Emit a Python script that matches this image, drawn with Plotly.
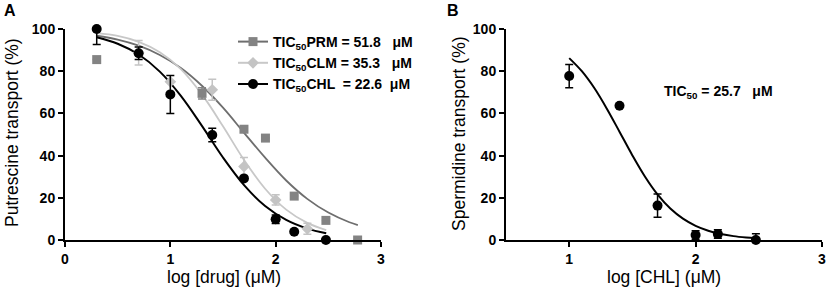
import plotly.graph_objects as go

# ---------------- data: panel A (putrescine transport) ----------------
prm_x = [0.301, 1.301, 1.699, 1.903, 2.176, 2.477, 2.778]
prm_y = [85.5, 69.5, 52.5, 48.3, 20.8, 9.3, 0.0]
prm_err = [0, 2.7, 0, 0, 0, 0, 0]

clm_x = [0.699, 1.0, 1.398, 1.699, 2.0, 2.301]
clm_y = [88.7, 75.0, 71.2, 34.8, 19.0, 5.3]
clm_err = [5.8, 0, 5.0, 4.3, 2.4, 2.6]

chl_x = [0.301, 0.699, 1.0, 1.398, 1.699, 2.0, 2.176, 2.477]
chl_y = [100.0, 88.5, 69.0, 49.8, 29.2, 9.8, 3.9, 0.0]
chl_err_plus = [0, 3.0, 9.0, 3.2, 0, 2.0, 0, 0]
chl_err_minus = [7.3, 3.0, 9.0, 3.2, 0, 2.0, 0, 0]

# fitted curves
prm_fit_x = [0.3, 0.5, 0.7, 0.9, 1.1, 1.3, 1.5, 1.7, 1.9, 2.1, 2.3, 2.5, 2.7, 2.78]
prm_fit_y = [96.8, 95.0, 92.1, 87.7, 81.5, 73.1, 62.7, 50.8, 39.0, 28.2, 19.5, 13.0, 8.4, 7.1]
clm_fit_x = [0.3, 0.5, 0.7, 0.9, 1.1, 1.3, 1.5, 1.7, 1.9, 2.1, 2.3, 2.48]
clm_fit_y = [98.0, 96.7, 93.9, 89.0, 81.0, 69.0, 53.9, 37.9, 24.3, 14.4, 8.1, 4.7]
chl_fit_x = [0.3, 0.5, 0.7, 0.9, 1.1, 1.3, 1.5, 1.7, 1.9, 2.1, 2.3, 2.48]
chl_fit_y = [96.1, 93.0, 87.9, 79.8, 68.3, 54.1, 39.1, 26.0, 16.1, 9.5, 5.4, 3.2]

legend_labels = [
    "TIC<sub>50</sub>PRM = 51.8\u00a0\u00a0 \u03bcM",
    "TIC<sub>50</sub>CLM = 35.3\u00a0\u00a0 \u03bcM",
    "TIC<sub>50</sub>CHL \u00a0= 22.6\u00a0 \u03bcM",
]

# ---------------- data: panel B (spermidine transport) ----------------
spd_x = [1.0, 1.398, 1.699, 2.0, 2.176, 2.477]
spd_y = [77.7, 63.6, 16.3, 2.4, 2.8, 0.0]
spd_err = [5.5, 0, 5.5, 2.0, 2.0, 3.0]
spd_fit_x = [1.0, 1.1, 1.2, 1.3, 1.4, 1.5, 1.6, 1.7, 1.8, 1.9, 2.0, 2.1, 2.2, 2.3, 2.4, 2.48]
spd_fit_y = [86.2, 80.0, 71.9, 62.0, 51.1, 40.1, 30.0, 21.5, 14.9, 10.1, 6.7, 4.4, 2.85, 1.84, 1.19, 0.83]
spd_label = "TIC<sub>50</sub> = 25.7\u00a0\u00a0 \u03bcM"

yticks = [0, 20, 40, 60, 80, 100]
xticksA = [0, 1, 2, 3]
xticksB = [1, 2, 3]

# ---------------- styles ----------------
C_PRM_M = "#838383"
C_PRM_L = "#6e6e6e"
C_CLM_M = "#c4c4c4"
C_CLM_L = "#c8c8c8"
C_CHL = "#000000"
FONT = "Liberation Sans, Arial, sans-serif"
W, H = 829, 295

fig = go.Figure()

# curves (panel A)
fig.add_trace(go.Scatter(x=prm_fit_x, y=prm_fit_y, mode="lines", line=dict(color=C_PRM_L, width=1.8, shape="spline"),
                         showlegend=False, xaxis="x", yaxis="y", hoverinfo="skip"))
fig.add_trace(go.Scatter(x=clm_fit_x, y=clm_fit_y, mode="lines", line=dict(color=C_CLM_L, width=1.8, shape="spline"),
                         showlegend=False, xaxis="x", yaxis="y", hoverinfo="skip"))
fig.add_trace(go.Scatter(x=chl_fit_x, y=chl_fit_y, mode="lines", line=dict(color=C_CHL, width=2, shape="spline"),
                         showlegend=False, xaxis="x", yaxis="y", hoverinfo="skip"))

# points (panel A)
fig.add_trace(go.Scatter(x=prm_x, y=prm_y, mode="markers", cliponaxis=False,
                         marker=dict(symbol="square", size=9, color=C_PRM_M),
                         error_y=dict(type="data", array=prm_err, color=C_PRM_M, thickness=1.5, width=4),
                         showlegend=False, xaxis="x", yaxis="y"))
fig.add_trace(go.Scatter(x=clm_x, y=clm_y, mode="markers", cliponaxis=False,
                         marker=dict(symbol="diamond", size=9, color=C_CLM_M),
                         error_y=dict(type="data", array=clm_err, color=C_CLM_M, thickness=1.5, width=4),
                         showlegend=False, xaxis="x", yaxis="y"))
fig.add_trace(go.Scatter(x=chl_x, y=chl_y, mode="markers", cliponaxis=False,
                         marker=dict(symbol="circle", size=10, color=C_CHL),
                         error_y=dict(type="data", symmetric=False, array=chl_err_plus, arrayminus=chl_err_minus,
                                      color=C_CHL, thickness=1.5, width=4),
                         showlegend=False, xaxis="x", yaxis="y"))

# legend entries
for lab, mc, lc, sym, sz in [(legend_labels[0], C_PRM_M, C_PRM_L, "square", 9),
                             (legend_labels[1], C_CLM_M, C_CLM_L, "diamond", 9),
                             (legend_labels[2], C_CHL, C_CHL, "circle", 10)]:
    fig.add_trace(go.Scatter(x=[None], y=[None], mode="lines+markers", name=lab,
                             marker=dict(symbol=sym, size=sz, color=mc),
                             line=dict(color=lc, width=2), xaxis="x", yaxis="y"))

# panel B
fig.add_trace(go.Scatter(x=spd_fit_x, y=spd_fit_y, mode="lines", line=dict(color=C_CHL, width=2, shape="spline"),
                         showlegend=False, xaxis="x2", yaxis="y2", hoverinfo="skip"))
fig.add_trace(go.Scatter(x=spd_x, y=spd_y, mode="markers", cliponaxis=False,
                         marker=dict(symbol="circle", size=10, color=C_CHL),
                         error_y=dict(type="data", array=spd_err, color=C_CHL, thickness=1.5, width=4),
                         showlegend=False, xaxis="x2", yaxis="y2"))

tickfont = dict(family=FONT, size=14, color="black", weight="bold")
axis_common = dict(showline=True, linecolor="black", linewidth=2, ticks="outside", ticklen=5, tickwidth=2,
                   tickcolor="black", showgrid=False, zeroline=False, tickfont=tickfont, automargin=False)


def px(x):
    return x / W


def py(y):
    return 1 - y / H


ydom = [py(240), py(29)]
fig.update_layout(
    template="none",
    width=W, height=H, autosize=False,
    margin=dict(l=0, r=0, t=0, b=0, pad=0),
    paper_bgcolor="white", plot_bgcolor="white",
    xaxis=dict(domain=[px(65), px(381)], range=[0, 3], tickvals=xticksA, anchor="y", **axis_common),
    yaxis=dict(domain=ydom, range=[0, 100], tickvals=yticks, anchor="x", **axis_common),
    xaxis2=dict(domain=[px(506), px(822)], range=[0.5, 3], tickvals=xticksB, anchor="y2", **axis_common),
    yaxis2=dict(domain=ydom, range=[0, 100], tickvals=yticks, anchor="x2", **axis_common),
    legend=dict(x=px(233), y=py(26), xanchor="left", yanchor="top",
                font=dict(family=FONT, size=14, color="black", weight="bold"),
                bgcolor="rgba(0,0,0,0)", tracegroupgap=0, itemwidth=30),
    showlegend=True,
)

title_font = dict(family=FONT, size=17.5, color="black")
annots = [
    dict(text="log [drug] (\u03bcM)", x=px(224), y=py(277), font=title_font),
    dict(text="Putrescine transport (%)", x=px(12), y=py(133), textangle=-90, font=title_font),
    dict(text="log [CHL] (\u03bcM)", x=px(664), y=py(277), font=title_font),
    dict(text="Spermidine transport (%)", x=px(459), y=py(133), textangle=-90, font=title_font),
    dict(text="A", x=px(10), y=py(10), font=dict(family=FONT, size=16, color="black", weight="bold")),
    dict(text="B", x=px(453), y=py(10), font=dict(family=FONT, size=16, color="black", weight="bold")),
]
for a in annots:
    fig.add_annotation(xref="paper", yref="paper", showarrow=False, xanchor="center", yanchor="middle", **a)

fig.add_annotation(xref="x2", yref="y2", x=1.733, y=70, text=spd_label, showarrow=False,
                   xanchor="left", yanchor="middle",
                   font=dict(family=FONT, size=14, color="black", weight="bold"))

fig.write_html("out.html", config={"displayModeBar": False},
               post_script="document.body.style.margin='0';document.body.style.overflow='hidden';")
